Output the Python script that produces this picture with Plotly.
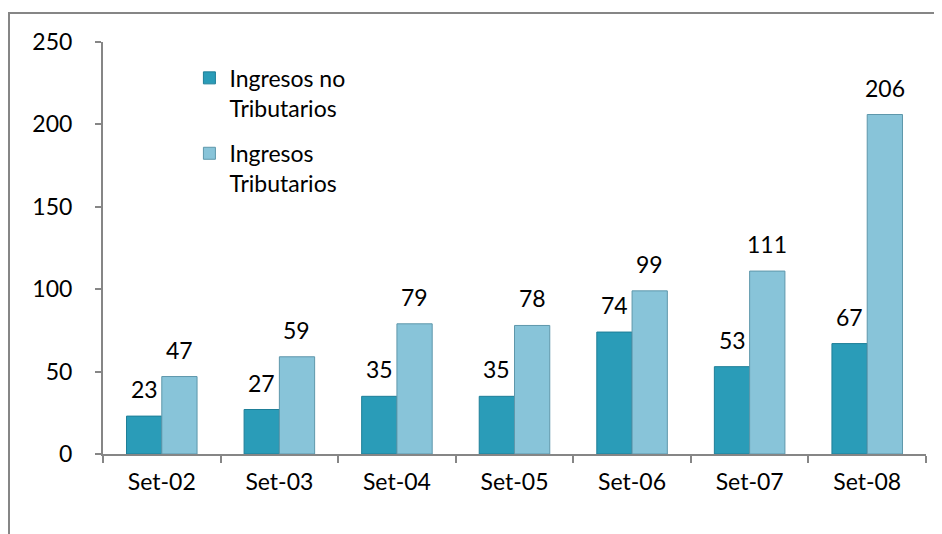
import plotly.graph_objects as go

categories = ["Set-02", "Set-03", "Set-04", "Set-05", "Set-06", "Set-07", "Set-08"]
no_tributarios = [23, 27, 35, 35, 74, 53, 67]
tributarios = [47, 59, 79, 78, 99, 111, 206]
series_names = ["Ingresos no<br>Tributarios", "Ingresos<br>Tributarios"]

FONT = "Lato, Carlito, Calibri, sans-serif"
AXIS = "#868686"
FS = 23
BARGAP = 0.4
PLOT_W = 823

fig = go.Figure()
fig.add_trace(go.Bar(
    x=categories, y=no_tributarios, name=series_names[0], legend="legend",
    marker=dict(color="#2A9CB8", line=dict(color="#1E7F98", width=1)),
    hoverinfo="x+y",
))
fig.add_trace(go.Bar(
    x=categories, y=tributarios, name=series_names[1], legend="legend2",
    marker=dict(color="#88C4D9", line=dict(color="#5E97AB", width=1)),
    hoverinfo="x+y",
))

# data labels above each bar, positioned via data coordinates
bar_px = PLOT_W / len(categories) * (1 - BARGAP) / 2
annotations = []
for series, side in ((no_tributarios, -1), (tributarios, 1)):
    for cat, val in zip(categories, series):
        annotations.append(dict(
            x=cat, y=val, xref="x", yref="y", text=str(val), showarrow=False,
            xanchor="center", yanchor="bottom", xshift=side * bar_px / 2, yshift=11,
            font=dict(size=FS, color="black", family=FONT),
        ))

legend_style = dict(x=0.105, xanchor="left", yanchor="top", valign="top",
                    bgcolor="rgba(0,0,0,0)", font=dict(size=FS, family=FONT),
                    itemwidth=30)

fig.update_layout(
    width=934, height=526,
    margin=dict(l=95, r=16, t=34, b=80, autoexpand=False),
    paper_bgcolor="white", plot_bgcolor="white",
    font=dict(family=FONT, size=FS, color="black"),
    barmode="group", bargap=BARGAP, bargroupgap=0,
    showlegend=True,
    legend=dict(y=0.965, **legend_style),
    legend2=dict(y=0.782, **legend_style),
    xaxis=dict(showline=True, linecolor=AXIS, linewidth=2, automargin=False,
               ticks="outside", tickcolor=AXIS, ticklen=7, tickwidth=2,
               tickson="boundaries", ticklabelstandoff=6,
               tickfont=dict(size=FS, family=FONT), showgrid=False),
    yaxis=dict(range=[0, 250], dtick=50, showline=True, linecolor=AXIS, linewidth=2,
               automargin=False,
               ticks="outside", tickcolor=AXIS, ticklen=6, tickwidth=2,
               ticklabelstandoff=18, showgrid=False, zeroline=False,
               tickfont=dict(size=FS, family=FONT)),
    annotations=annotations,
    shapes=[dict(type="rect", xref="paper", yref="paper",
                 x0=(1 - 95) / 823, x1=1.2, y0=-0.4, y1=(446 - 5) / 412,
                 line=dict(color=AXIS, width=2), fillcolor="rgba(0,0,0,0)", layer="below")],
)

fig.write_html("out.html")
